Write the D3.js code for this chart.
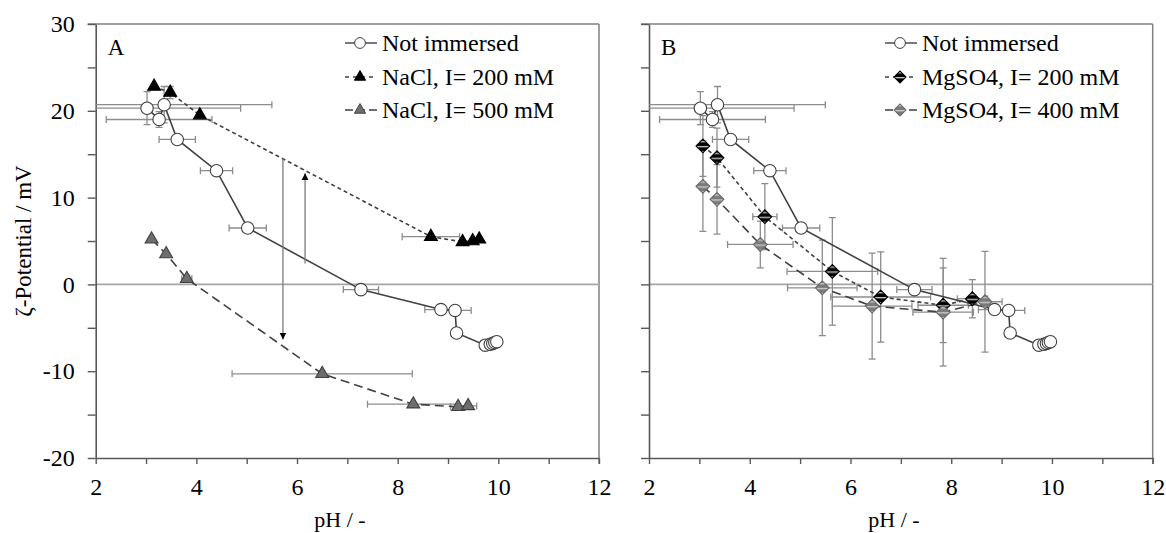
<!DOCTYPE html>
<html>
<head>
<meta charset="utf-8">
<script src="https://cdnjs.cloudflare.com/ajax/libs/d3/7.8.5/d3.min.js"></script>
<style>
  body { margin: 0; background: #fff; }
  svg text { font-family: "Liberation Serif", "Times New Roman", serif; fill: #000; }
</style>
</head>
<body>
<div id="chartContainer"></div>
<script>
// ---- data ----
// not immersed (same in both panels)
var niPH   = [3.02, 3.26, 3.36, 3.62, 4.40, 5.02, 7.27, 8.86, 9.14, 9.17, 9.74, 9.84, 9.89, 9.93, 9.97];
var niZeta = [20.3, 19.0, 20.7, 16.7, 13.1, 6.5, -0.6, -2.9, -3.0, -5.6, -7.0, -6.9, -6.8, -6.7, -6.6];
var niErrX = [1.86, 1.05, 2.14, 0.36, 0.32, 0.37, 0.35, 0.32, 0.32, 0, 0, 0, 0, 0, 0];
var niErrY = [1.9, 0.9, 2.1, 0, 0, 0, 0, 0, 0, 0, 0, 0, 0, 0, 0];

// NaCl, I = 200 mM
var na200PH   = [3.16, 3.48, 4.07, 8.66, 9.29, 9.49, 9.62];
var na200Zeta = [22.8, 22.1, 19.5, 5.5, 4.9, 5.0, 5.2];
var na200ErrX = [0, 0, 0, 0.57, 0, 0, 0];
var na200ErrY = [0, 0.7, 0, 0, 0, 0, 0];

// NaCl, I = 500 mM
var na500PH   = [3.11, 3.40, 3.81, 6.50, 8.31, 9.20, 9.40];
var na500Zeta = [5.2, 3.5, 0.65, -10.3, -13.8, -14.1, -14.0];
var na500ErrX = [0, 0, 0.1, 1.79, 0.91, 0.15, 0.17];
var na500ErrY = [0, 0, 0.4, 0, 0, 0, 0];

// MgSO4, I = 200 mM
var mg200PH   = [3.07, 3.35, 4.30, 5.64, 6.60, 7.84, 8.42];
var mg200Zeta = [15.95, 14.6, 7.8, 1.5, -1.45, -2.4, -1.65];
var mg200ErrX = [0, 0, 0.24, 0.9, 0.99, 0.5, 0.3];
var mg200ErrY = [3.5, 3.4, 3.8, 6.2, 5.2, 4.3, 2.2];

// MgSO4, I = 400 mM
var mg400PH   = [3.07, 3.35, 4.21, 5.44, 6.43, 7.84, 8.67];
var mg400Zeta = [11.3, 9.8, 4.6, -0.4, -2.5, -3.2, -2.0];
var mg400ErrX = [0, 0, 0.65, 0.69, 0.79, 0.6, 0.34];
var mg400ErrY = [5.2, 4.0, 2.7, 5.5, 6.1, 6.2, 5.8];

// vertical arrows in panel A: pH, from, to
var arrowPH   = [5.72, 6.16];
var arrowFrom = [14.5, 2.4];
var arrowTo   = [-6.35, 12.8];

// axis ticks
var xTicks = [2, 3, 4, 5, 6, 7, 8, 9, 10, 11, 12];
var yTicks = [-20, -15, -10, -5, 0, 5, 10, 15, 20, 25, 30];

function zip(ph, z, ex, ey) {
  return ph.map(function (d, i) { return { ph: d, z: z[i], ex: ex[i], ey: ey[i] }; });
}

var svg = d3.select("#chartContainer").append("svg")
  .attr("width", 1166).attr("height", 533);

// hatch patterns for the diamonds
var defs = svg.append("defs");
function hatch(id, bg, fg) {
  var p = defs.append("pattern").attr("id", id)
    .attr("patternUnits", "userSpaceOnUse")
    .attr("width", 5).attr("height", 5)
    .attr("patternTransform", "rotate(45)");
  p.append("rect").attr("width", 5).attr("height", 5).attr("fill", bg);
  p.append("rect").attr("width", 1.4).attr("height", 5).attr("fill", fg);
}
hatch("hatchBlack", "#000", "#bdbdbd");
hatch("hatchGray", "#7a7a7a", "#c8c8c8");

defs.append("marker").attr("id", "arrowHead")
  .attr("viewBox", "0 0 10 10").attr("refX", 10).attr("refY", 5)
  .attr("markerWidth", 7).attr("markerHeight", 9)
  .attr("markerUnits", "userSpaceOnUse")
  .attr("orient", "auto")
  .append("path").attr("d", "M0,0L10,5L0,10Z").attr("fill", "#000");

var plotTop = 24, plotBottom = 458;
var lineColor = "#404040";

var styles = {
  circle:   { shape: d3.symbolCircle,   size: 122, fill: "#fff",   stroke: "#404040", rot: 0 },
  triBlack: { shape: d3.symbolTriangle, size: 72,  fill: "#000",   stroke: "#000",    rot: 0 },
  triGray:  { shape: d3.symbolTriangle, size: 72,  fill: "#6e6e6e", stroke: "#404040", rot: 0 },
  diaBlack: { shape: d3.symbolSquare,   size: 95,  fill: "url(#hatchBlack)", stroke: "#000", rot: 45 },
  diaGray:  { shape: d3.symbolSquare,   size: 95,  fill: "url(#hatchGray)",  stroke: "#666", rot: 45 }
};

function drawPanel(left, right, label, series, legendX, showYLabels, titleX) {
  var x = d3.scaleLinear().domain([2, 12]).range([left, right]);
  var y = d3.scaleLinear().domain([-20, 30]).range([plotBottom, plotTop]);
  var g = svg.append("g");

  var clipId = "clip" + label;
  defs.append("clipPath").attr("id", clipId).append("rect")
    .attr("x", left).attr("y", plotTop).attr("width", right - left).attr("height", plotBottom - plotTop);

  // frame top/right
  g.append("line").attr("x1", left - 8).attr("x2", right).attr("y1", plotTop).attr("y2", plotTop)
    .attr("stroke", "#808080").attr("stroke-width", 1.5);
  g.append("line").attr("x1", right).attr("x2", right).attr("y1", plotTop).attr("y2", plotBottom + 6)
    .attr("stroke", "#808080").attr("stroke-width", 1.5);

  // zero line
  g.append("line").attr("x1", left).attr("x2", right).attr("y1", y(0)).attr("y2", y(0))
    .attr("stroke", "#a6a6a6").attr("stroke-width", 1.6);

  // axes
  var yAxis = d3.axisLeft(y).tickValues(yTicks).tickSize(8).tickSizeOuter(0).tickPadding(13)
    .tickFormat(function (d) { return showYLabels && d % 10 === 0 ? d : ""; });
  var xAxis = d3.axisBottom(x).tickValues(xTicks).tickSize(6).tickSizeOuter(0).tickPadding(14)
    .tickFormat(function (d) { return d % 2 === 0 ? d : ""; });

  var ya = g.append("g").attr("transform", "translate(" + left + ",0)").call(yAxis);
  var xa = g.append("g").attr("transform", "translate(0," + plotBottom + ")").call(xAxis);
  [ya, xa].forEach(function (a) {
    a.select(".domain").attr("stroke", "#595959").attr("stroke-width", 1.6);
    a.selectAll(".tick line").attr("stroke", "#595959").attr("stroke-width", 1.4);
    a.selectAll("text").style("font-size", "24px")
      .style("font-family", "'Liberation Serif', serif").attr("fill", "#000");
  });

  // axis titles
  if (showYLabels) {
    g.append("text").attr("transform", "translate(31," + ((plotTop + plotBottom) / 2) + ") rotate(-90)")
      .attr("text-anchor", "middle").style("font-size", "23px").text("ζ-Potential / mV");
  }
  g.append("text").attr("x", titleX).attr("y", 527).attr("text-anchor", "middle")
    .style("font-size", "22px").text("pH / -");

  // panel label
  g.append("text").attr("x", left + 12).attr("y", 55).style("font-size", "23px").text(label);

  var plot = g.append("g").attr("clip-path", "url(#" + clipId + ")");

  // error bars
  series.forEach(function (s) {
    var eg = plot.append("g").attr("stroke", "#8c8c8c").attr("stroke-width", 1.3).attr("fill", "none");
    s.data.forEach(function (d) {
      if (d.ex > 0) {
        eg.append("line").attr("x1", x(d.ph - d.ex)).attr("x2", x(d.ph + d.ex))
          .attr("y1", y(d.z)).attr("y2", y(d.z));
        [d.ph - d.ex, d.ph + d.ex].forEach(function (v) {
          eg.append("line").attr("x1", x(v)).attr("x2", x(v))
            .attr("y1", y(d.z) - 3.5).attr("y2", y(d.z) + 3.5);
        });
      }
      if (d.ey > 0) {
        eg.append("line").attr("x1", x(d.ph)).attr("x2", x(d.ph))
          .attr("y1", y(d.z - d.ey)).attr("y2", y(d.z + d.ey));
        [d.z - d.ey, d.z + d.ey].forEach(function (v) {
          eg.append("line").attr("x1", x(d.ph) - 3.5).attr("x2", x(d.ph) + 3.5)
            .attr("y1", y(v)).attr("y2", y(v));
        });
      }
    });
  });

  // connecting lines
  var line = d3.line().x(function (d) { return x(d.ph); }).y(function (d) { return y(d.z); });
  series.forEach(function (s) {
    plot.append("path").datum(s.data).attr("d", line)
      .attr("fill", "none").attr("stroke", lineColor).attr("stroke-width", 1.6)
      .attr("stroke-dasharray", s.dash);
  });

  // markers
  series.forEach(function (s) {
    var st = styles[s.style];
    plot.append("g").selectAll("path").data(s.data).enter().append("path")
      .attr("d", d3.symbol().type(st.shape).size(st.size))
      .attr("transform", function (d) {
        return "translate(" + x(d.ph) + "," + y(d.z) + ") rotate(" + st.rot + ")";
      })
      .attr("fill", st.fill).attr("stroke", st.stroke).attr("stroke-width", 1.1);
  });

  // legend
  var rowY = [43, 77, 110];
  series.slice().sort(function (a, b) { return a.legendRow - b.legendRow; }).forEach(function (s, i) {
    var st = styles[s.style];
    var lg = g.append("g").attr("transform", "translate(" + legendX + "," + rowY[i] + ")");
    lg.append("line").attr("x1", 0).attr("x2", 32).attr("y1", 0).attr("y2", 0)
      .attr("stroke", lineColor).attr("stroke-width", 1.4).attr("stroke-dasharray", s.legendDash);
    lg.append("path").attr("d", d3.symbol().type(st.shape).size(st.size * 0.75))
      .attr("transform", "translate(15,0) rotate(" + st.rot + ")")
      .attr("fill", st.fill).attr("stroke", st.stroke).attr("stroke-width", 1);
    lg.append("text").attr("x", 37).attr("dy", "0.35em").style("font-size", "24px").text(s.name);
  });

  return { x: x, y: y, g: g };
}

var niData = zip(niPH, niZeta, niErrX, niErrY);

var panelA = drawPanel(95.7, 599, "A", [
  { name: "NaCl, I= 200 mM", data: zip(na200PH, na200Zeta, na200ErrX, na200ErrY), style: "triBlack", dash: "4,3", legendDash: "4,4", legendRow: 1 },
  { name: "NaCl, I= 500 mM", data: zip(na500PH, na500Zeta, na500ErrX, na500ErrY), style: "triGray", dash: "9,5", legendDash: "8,4", legendRow: 2 },
  { name: "Not immersed", data: niData, style: "circle", dash: null, legendDash: null, legendRow: 0 }
], 345, true, 340);

// vertical arrows in panel A
arrowPH.forEach(function (p, i) {
  panelA.g.append("line")
    .attr("x1", panelA.x(p)).attr("x2", panelA.x(p))
    .attr("y1", panelA.y(arrowFrom[i])).attr("y2", panelA.y(arrowTo[i]))
    .attr("stroke", "#7a7a7a").attr("stroke-width", 1.3)
    .attr("marker-end", "url(#arrowHead)");
});

drawPanel(649, 1152.7, "B", [
  { name: "MgSO4, I= 200 mM", data: zip(mg200PH, mg200Zeta, mg200ErrX, mg200ErrY), style: "diaBlack", dash: "4,3", legendDash: "4,4", legendRow: 1 },
  { name: "MgSO4, I= 400 mM", data: zip(mg400PH, mg400Zeta, mg400ErrX, mg400ErrY), style: "diaGray", dash: "9,5", legendDash: "8,4", legendRow: 2 },
  { name: "Not immersed", data: niData, style: "circle", dash: null, legendDash: null, legendRow: 0 }
], 885, false, 894);
</script>
</body>
</html>
